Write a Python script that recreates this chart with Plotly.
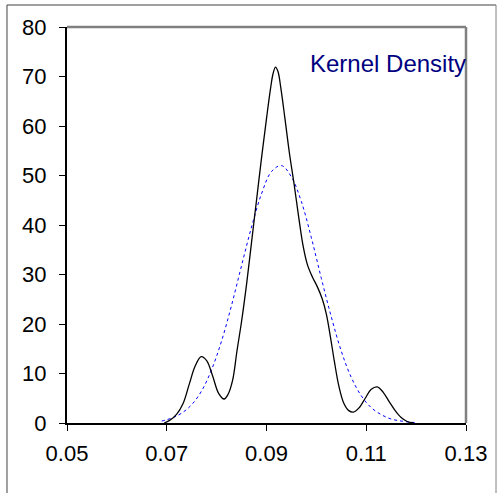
import plotly.graph_objects as go

# Kernel density (black)
kd_x = [0.0695, 0.0707, 0.0720, 0.0733, 0.0745, 0.0757, 0.0769, 0.0780, 0.0792,
        0.0804, 0.0815, 0.0823, 0.0832, 0.0841, 0.0850, 0.0860, 0.0870, 0.0880,
        0.0890, 0.0900, 0.0908, 0.0913, 0.0918, 0.0923, 0.0929, 0.0937, 0.0946,
        0.0955, 0.0964, 0.0973, 0.0982, 0.0992, 0.1002, 0.1012, 0.1020, 0.1028,
        0.1036, 0.1045, 0.1055, 0.1065, 0.1074, 0.1085, 0.1098, 0.1110, 0.1122,
        0.1134, 0.1146, 0.1158, 0.1170, 0.1182, 0.1195]
kd_y = [0.0, 0.6, 1.8, 4.0, 7.8, 11.5, 13.4, 12.6, 9.5,
        6.0, 4.85, 5.8, 8.6, 14.7, 20.5, 28.0, 36.5, 45.0,
        53.5, 61.5, 67.5, 70.5, 71.9, 71.0, 67.5, 61.5, 54.5,
        48.5, 42.0, 36.0, 32.0, 29.5, 27.5, 25.0, 22.0, 17.5,
        12.5, 7.5, 4.0, 2.5, 2.2, 3.0, 5.0, 6.8, 7.3,
        6.2, 4.3, 2.5, 1.1, 0.3, 0.0]

# Normal curve (blue dotted)
nd_x = [0.069, 0.071, 0.073, 0.075, 0.077, 0.079, 0.081, 0.083, 0.085, 0.087,
        0.089, 0.091, 0.093, 0.095, 0.097, 0.099, 0.101, 0.103, 0.105, 0.107,
        0.109, 0.111, 0.113, 0.115, 0.117, 0.119, 0.120]
nd_y = [0.4, 1.0, 2.0, 3.7, 6.5, 10.8, 16.6, 23.8, 31.8, 39.6,
        46.3, 50.8, 52.0, 49.7, 44.7, 37.4, 29.2, 21.4, 14.5, 9.2,
        5.5, 3.1, 1.7, 0.8, 0.4, 0.15, 0.1]

x_ticks = [0.05, 0.07, 0.09, 0.11, 0.13]
x_tick_labels = ["0.05", "0.07", "0.09", "0.11", "0.13"]
y_ticks = [0, 10, 20, 30, 40, 50, 60, 70, 80]

fig = go.Figure()
fig.add_trace(go.Scatter(x=nd_x, y=nd_y, mode="lines", line_shape="spline",
                         line=dict(color="#0000ff", width=1, dash="dot"),
                         showlegend=False, hoverinfo="skip"))
fig.add_trace(go.Scatter(x=kd_x, y=kd_y, mode="lines", line_shape="spline",
                         line=dict(color="black", width=1.3),
                         showlegend=False, hoverinfo="skip"))

font_family = "Liberation Sans, Arial, sans-serif"
fig.update_layout(
    width=498, height=493,
    margin=dict(l=67, r=32, t=27, b=70),
    paper_bgcolor="white", plot_bgcolor="white",
    font=dict(family=font_family, color="black", size=22),
    xaxis=dict(range=[0.05, 0.13], tickvals=x_ticks, ticktext=x_tick_labels,
               showgrid=False, zeroline=False, showline=True, linecolor="black",
               linewidth=2, ticks="outside", ticklen=6, tickcolor="black",
               tickwidth=1, tickfont=dict(size=22), ticklabelstandoff=4),
    yaxis=dict(range=[0, 80], tickvals=y_ticks, showgrid=False, zeroline=False,
               showline=True, linecolor="black", linewidth=2, ticks="outside",
               ticklen=6, tickcolor="black", tickwidth=1,
               tickfont=dict(size=22), ticklabelstandoff=8),
    annotations=[dict(text="Kernel Density", xref="paper", yref="paper",
                      x=1.006, y=0.909, xanchor="right", yanchor="middle",
                      showarrow=False,
                      font=dict(size=24, color="#000080", family=font_family))],
    shapes=[
        # plot-area top and right borders (gray)
        dict(type="line", xref="paper", yref="paper", x0=0, x1=1, y0=1, y1=1,
             line=dict(color="#808080", width=2.5)),
        dict(type="line", xref="paper", yref="paper", x0=1, x1=1, y0=0, y1=1,
             line=dict(color="#808080", width=2.5)),
        # outer chart frame
        dict(type="line", xref="paper", yref="paper", x0=-0.1504, x1=1.0752,
             y0=1.0556, y1=1.0556, line=dict(color="#808080", width=1.5)),
        dict(type="line", xref="paper", yref="paper", x0=-0.1504, x1=-0.1504,
             y0=1.0556, y1=-0.2, line=dict(color="#404040", width=1)),
        dict(type="line", xref="paper", yref="paper", x0=1.0752, x1=1.0752,
             y0=1.0556, y1=-0.2, line=dict(color="#808080", width=1)),
    ],
)

fig.write_html("out.html")
